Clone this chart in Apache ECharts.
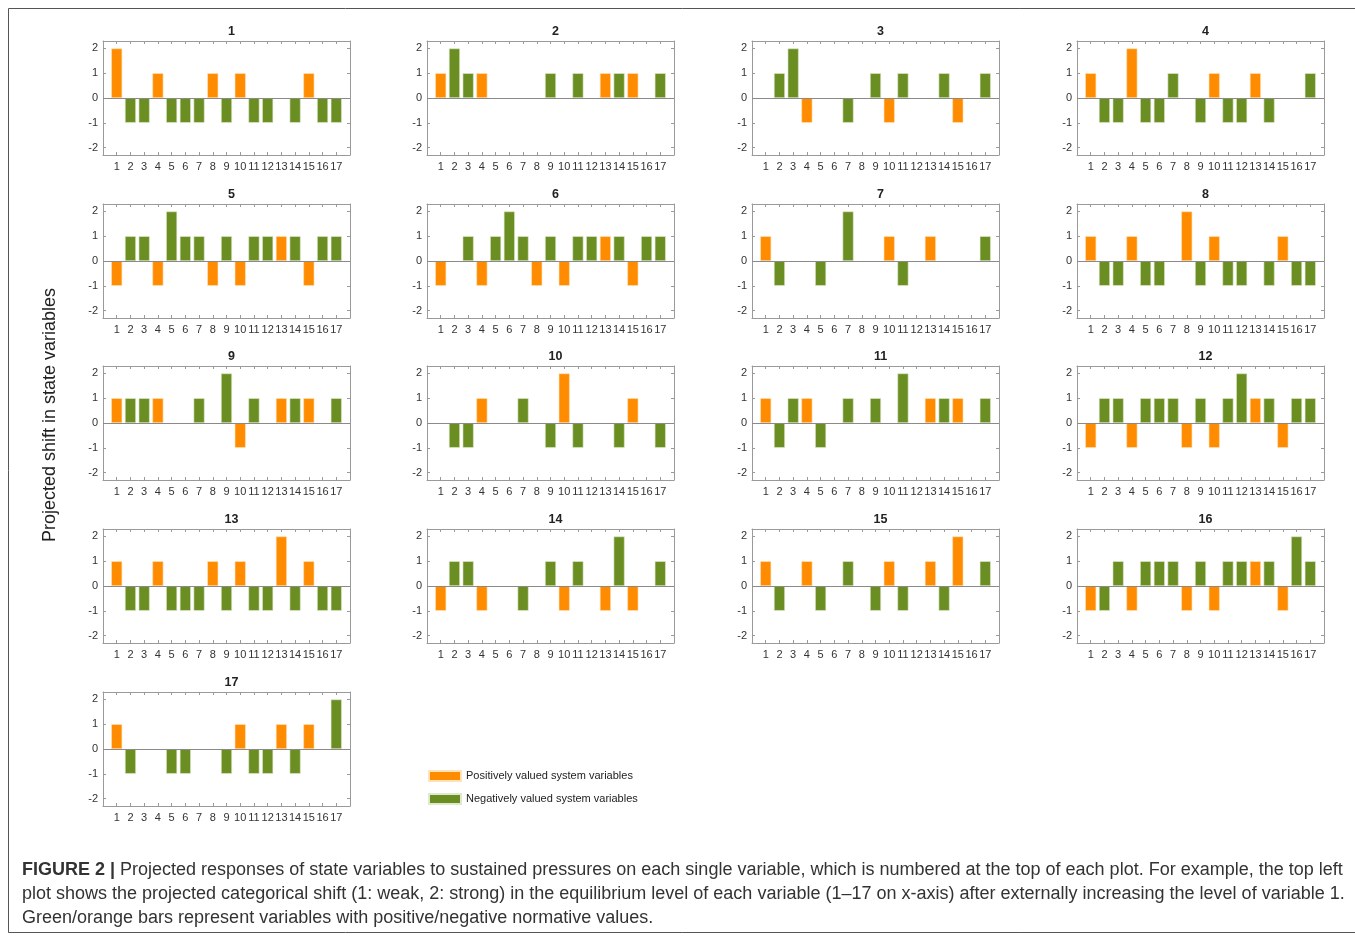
<!DOCTYPE html>
<html>
<head>
<meta charset="utf-8">
<script src="https://cdn.jsdelivr.net/npm/echarts@6.0.0/dist/echarts.min.js"></script>
<style>
html, body { margin: 0; padding: 0; background: #fff; }
#chart { width: 1355px; height: 939px; }
</style>
</head>
<body>
<div id="chart"></div>
<script>
// x axis: state variables 1..17
const variables = [1, 2, 3, 4, 5, 6, 7, 8, 9, 10, 11, 12, 13, 14, 15, 16, 17];
// variables drawn orange (positively valued), the rest green
const positiveVars = [1, 4, 8, 10, 13, 15];
const yTicks = [-2, -1, 0, 1, 2];

// projected shift of every variable, one array per pressured variable
const shift1  = [2, -1, -1, 1, -1, -1, -1, 1, -1, 1, -1, -1, 0, -1, 1, -1, -1];
const shift2  = [1, 2, 1, 1, 0, 0, 0, 0, 1, 0, 1, 0, 1, 1, 1, 0, 1];
const shift3  = [0, 1, 2, -1, 0, 0, -1, 0, 1, -1, 1, 0, 0, 1, -1, 0, 1];
const shift4  = [1, -1, -1, 2, -1, -1, 1, 0, -1, 1, -1, -1, 1, -1, 0, 0, 1];
const shift5  = [-1, 1, 1, -1, 2, 1, 1, -1, 1, -1, 1, 1, 1, 1, -1, 1, 1];
const shift6  = [-1, 0, 1, -1, 1, 2, 1, -1, 1, -1, 1, 1, 1, 1, -1, 1, 1];
const shift7  = [1, -1, 0, 0, -1, 0, 2, 0, 0, 1, -1, 0, 1, 0, 0, 0, 1];
const shift8  = [1, -1, -1, 1, -1, -1, 0, 2, -1, 1, -1, -1, 0, -1, 1, -1, -1];
const shift9  = [1, 1, 1, 1, 0, 0, 1, 0, 2, -1, 1, 0, 1, 1, 1, 0, 1];
const shift10 = [0, -1, -1, 1, 0, 0, 1, 0, -1, 2, -1, 0, 0, -1, 1, 0, -1];
const shift11 = [1, -1, 1, 1, -1, 0, 1, 0, 1, 0, 2, 0, 1, 1, 1, 0, 1];
const shift12 = [-1, 1, 1, -1, 1, 1, 1, -1, 1, -1, 1, 2, 1, 1, -1, 1, 1];
const shift13 = [1, -1, -1, 1, -1, -1, -1, 1, -1, 1, -1, -1, 2, -1, 1, -1, -1];
const shift14 = [-1, 1, 1, -1, 0, 0, -1, 0, 1, -1, 1, 0, -1, 2, -1, 0, 1];
const shift15 = [1, -1, 0, 1, -1, 0, 1, 0, -1, 1, -1, 0, 1, -1, 2, 0, 1];
const shift16 = [-1, -1, 1, -1, 1, 1, 1, -1, 1, -1, 1, 1, 1, 1, -1, 2, 1];
const shift17 = [1, -1, 0, 0, -1, -1, 0, 0, -1, 1, -1, -1, 1, -1, 1, 0, 2];

const panels = [shift1, shift2, shift3, shift4, shift5, shift6, shift7, shift8, shift9,
  shift10, shift11, shift12, shift13, shift14, shift15, shift16, shift17];

const posName = 'Positively valued system variables';
const negName = 'Negatively valued system variables';
const orange = '#ff8c00';
const green = '#6b8e23';
const boxColor = '#9a9a9a';
const font = 'Liberation Sans, Arial, sans-serif';

// panel layout (px)
const colLeft = [103, 427, 752, 1077];
const rowTop = [41, 204, 366, 529, 692];
const boxW = 247;
const boxH = 114;

const grids = [], xAxes = [], yAxes = [], titles = [], series = [];

panels.forEach((vals, i) => {
  const left = colLeft[i % 4];
  const top = rowTop[Math.floor(i / 4)];
  grids.push({ left: left, top: top, width: boxW, height: boxH });
  titles.push({
    text: String(i + 1),
    left: left + boxW / 2,
    top: top - 21,
    textAlign: 'center',
    textStyle: { fontSize: 12.5, fontWeight: 'bold', color: '#222', fontFamily: font }
  });
  // bottom + top x axes, left + right y axes make the box with ticks
  ['bottom', 'top'].forEach(pos => {
    xAxes.push({
      type: 'value', gridIndex: i, position: pos, min: 0, max: 18,
      axisLine: { show: true, onZero: false, lineStyle: { color: boxColor } },
      axisTick: { show: true, inside: true, length: 3, customValues: variables, lineStyle: { color: boxColor } },
      axisLabel: {
        show: pos === 'bottom', customValues: variables, margin: 6,
        fontSize: 11, color: '#333', fontFamily: font
      },
      splitLine: { show: false }
    });
  });
  ['left', 'right'].forEach(pos => {
    yAxes.push({
      type: 'value', gridIndex: i, position: pos, min: -2.3, max: 2.3,
      axisLine: { show: true, onZero: false, lineStyle: { color: boxColor } },
      axisTick: { show: true, inside: true, length: 3, customValues: yTicks, lineStyle: { color: boxColor } },
      axisLabel: {
        show: pos === 'left', customValues: yTicks, margin: 5,
        fontSize: 11, color: '#333', fontFamily: font
      },
      splitLine: { show: false }
    });
  });

  const points = variables.map((v, k) => [v, vals[k]]).filter(p => p[1] !== 0);
  series.push({
    name: posName, type: 'bar', xAxisIndex: 2 * i, yAxisIndex: 2 * i,
    barWidth: 11, barGap: '-100%',
    itemStyle: { color: orange, borderColor: '#ffe2b8', borderWidth: 0.6 },
    data: points.filter(p => positiveVars.includes(p[0]))
  });
  series.push({
    name: negName, type: 'bar', xAxisIndex: 2 * i, yAxisIndex: 2 * i,
    barWidth: 11, barGap: '-100%',
    itemStyle: { color: green, borderColor: '#dfe9cc', borderWidth: 0.6 },
    data: points.filter(p => !positiveVars.includes(p[0])),
    markLine: {
      silent: true, symbol: ['none', 'none'], animation: false,
      label: { show: false },
      lineStyle: { color: '#8a8a8a', type: 'solid', width: 1 },
      data: [{ yAxis: 0 }]
    }
  });
});

const chart = echarts.init(document.getElementById('chart'));
chart.setOption({
  animation: false,
  backgroundColor: '#fff',
  title: titles,
  grid: grids,
  xAxis: xAxes,
  yAxis: yAxes,
  series: series,
  legend: {
    data: [posName, negName],
    orient: 'vertical',
    left: 423, top: 765,
    itemWidth: 32, itemHeight: 10, itemGap: 11,
    icon: 'rect',
    selectedMode: false,
    textStyle: { fontSize: 11, color: '#222', fontFamily: font }
  },
  graphic: [
    {
      type: 'rect', silent: true,
      shape: { x: 8.5, y: 8.5, width: 1360, height: 924 },
      style: { fill: 'none', stroke: '#555', lineWidth: 1 }
    },
    {
      type: 'text', x: 50, y: 415, rotation: Math.PI / 2,
      style: {
        text: 'Projected shift in state variables',
        fontSize: 18, fill: '#222', fontFamily: font,
        align: 'center', verticalAlign: 'middle'
      }
    },
    {
      type: 'text', x: 22, y: 870,
      style: {
        text: '{b|FIGURE 2 |} Projected responses of state variables to sustained pressures on each single variable, which is numbered at the top of each plot. For example, the top left',
        rich: { b: { fontWeight: 'bold', fontSize: 18, fill: '#333', fontFamily: font } },
        fontSize: 18, fill: '#333', fontFamily: font, verticalAlign: 'middle'
      }
    },
    {
      type: 'text', x: 22, y: 894,
      style: {
        text: 'plot shows the projected categorical shift (1: weak, 2: strong) in the equilibrium level of each variable (1–17 on x-axis) after externally increasing the level of variable 1.',
        fontSize: 18, fill: '#333', fontFamily: font, verticalAlign: 'middle'
      }
    },
    {
      type: 'text', x: 22, y: 918,
      style: {
        text: 'Green/orange bars represent variables with positive/negative normative values.',
        fontSize: 18, fill: '#333', fontFamily: font, verticalAlign: 'middle'
      }
    }
  ]
});
</script>
</body>
</html>
